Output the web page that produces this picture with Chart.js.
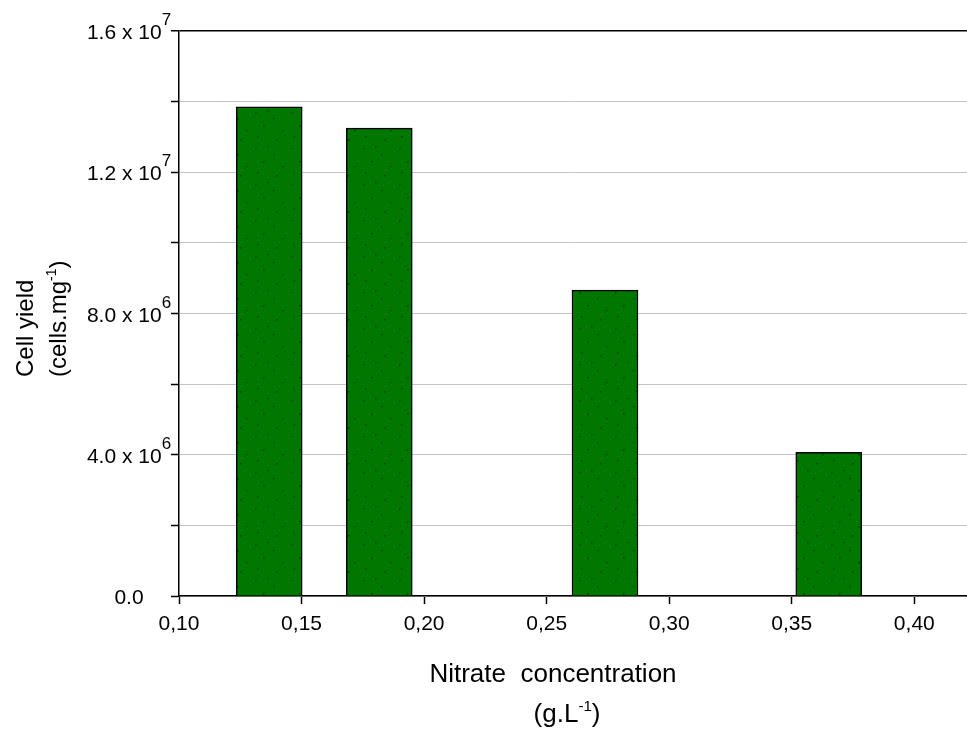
<!DOCTYPE html>
<html>
<head>
<meta charset="utf-8">
<script src="https://cdn.jsdelivr.net/npm/chart.js@4"></script>
<style>
  html, body { margin: 0; padding: 0; background: #fff; }
  #wrap { width: 967px; height: 731px; }
</style>
</head>
<body>
<div id="wrap"><canvas id="chart"></canvas></div>
<script>
// ---------- data ----------
const nitrate   = [0.1368, 0.1817, 0.2738, 0.3651];      // g.L-1 (bar centres)
const cellYield = [13.85e6, 13.25e6, 8.66e6, 4.07e6];    // cells.mg-1
const xTickValues  = [0.10, 0.15, 0.20, 0.25, 0.30, 0.35, 0.40];
const yLabelValues = [0, 4e6, 8e6, 1.2e7, 1.6e7];
const yLabelMain   = ['0.0', '4.0 x 10', '8.0 x 10', '1.2 x 10', '1.6 x 10'];
const yLabelExp    = ['', '6', '6', '7', '7'];

const FONT = '"Liberation Sans", Arial, sans-serif';

// dotted green fill like the original bars
function dotPattern() {
  const c = document.createElement('canvas');
  c.width = 36; c.height = 36;
  const g = c.getContext('2d');
  g.fillStyle = '#007800';
  g.fillRect(0, 0, 36, 36);
  g.fillStyle = '#003c00';
  [[3, 4], [21, 10], [11, 17], [30, 22], [5, 28], [24, 31], [15, 2]].forEach(([x, y]) => g.fillRect(x, y, 1.5, 1.5));
  return g.createPattern(c, 'repeat');
}

// ---------- labels with superscripts ----------
const labelsPlugin = {
  id: 'labels',
  afterDraw(chart) {
    const ctx = chart.ctx;
    const ys = chart.scales.y;
    ctx.save();
    ctx.fillStyle = '#000';
    ctx.textBaseline = 'alphabetic';
    ctx.textAlign = 'left';

    // y tick labels, centred at x = 129
    yLabelValues.forEach((v, i) => {
      const py = ys.getPixelForValue(v);
      ctx.font = '21px ' + FONT;
      const w1 = ctx.measureText(yLabelMain[i]).width;
      ctx.font = '17px ' + FONT;
      const w2 = yLabelExp[i] ? ctx.measureText(yLabelExp[i]).width : 0;
      const x0 = 129 - (w1 + w2) / 2;
      ctx.font = '21px ' + FONT;
      ctx.fillText(yLabelMain[i], x0, py + 8);
      if (yLabelExp[i]) {
        ctx.font = '17px ' + FONT;
        ctx.fillText(yLabelExp[i], x0 + w1, py - 6);
      }
    });

    // x title
    ctx.font = '26px ' + FONT;
    ctx.textAlign = 'center';
    ctx.fillText('Nitrate  concentration', 553, 682);
    ctx.textAlign = 'left';
    const a = '(g.L', b = '-1', c = ')';
    ctx.font = '26px ' + FONT;
    const wa = ctx.measureText(a).width, wc = ctx.measureText(c).width;
    ctx.font = '15px ' + FONT;
    const wb = ctx.measureText(b).width;
    let x = 567 - (wa + wb + wc) / 2;
    ctx.font = '26px ' + FONT;
    ctx.fillText(a, x, 722); x += wa;
    ctx.font = '15px ' + FONT;
    ctx.fillText(b, x, 711); x += wb;
    ctx.font = '26px ' + FONT;
    ctx.fillText(c, x, 722);

    // y title (rotated)
    ctx.save();
    ctx.translate(33, 377);
    ctx.rotate(-Math.PI / 2);
    ctx.font = '24px ' + FONT;
    ctx.fillText('Cell yield', 0, 0);
    ctx.restore();

    ctx.save();
    ctx.translate(66, 377);
    ctx.rotate(-Math.PI / 2);
    ctx.font = '24px ' + FONT;
    let t = 0;
    ctx.fillText('(cells.mg', t, 0); t += ctx.measureText('(cells.mg').width;
    ctx.font = '14px ' + FONT;
    ctx.fillText('-1', t, -10); t += ctx.measureText('-1').width;
    ctx.font = '24px ' + FONT;
    ctx.fillText(')', t, 0);
    ctx.restore();

    ctx.restore();
  }
};

new Chart(document.getElementById('chart'), {
  type: 'bar',
  data: {
    datasets: [{
      data: nitrate.map((n, i) => ({ x: n, y: cellYield[i] })),
      backgroundColor: dotPattern(),
      borderColor: '#000',
      borderWidth: 1.5,
      borderSkipped: 'start',
      barThickness: 66,
    }]
  },
  options: {
    responsive: true,
    maintainAspectRatio: false,
    animation: false,
    layout: { padding: { top: 31, left: 0, right: 0, bottom: 0 } },
    plugins: { legend: { display: false }, tooltip: { enabled: false } },
    scales: {
      x: {
        type: 'linear',
        offset: false,
        min: 0.1,
        max: 0.4215,
        afterFit: (s) => { s.height = 135; },
        afterBuildTicks: (s) => { s.ticks = xTickValues.map((v) => ({ value: v })); },
        ticks: {
          stepSize: 0.05,
          color: '#000',
          font: { family: FONT, size: 21 },
          padding: 8,
          maxRotation: 0,
          autoSkip: false,
          callback: (v) => v.toFixed(2).replace('.', ','),
        },
        grid: { offset: false, drawOnChartArea: false, tickLength: 8, tickColor: '#000', tickWidth: 1.5 },
        border: { color: '#000', width: 1.5 },
      },
      y: {
        min: 0,
        max: 1.6e7,
        afterFit: (s) => { s.width = 179; },
        ticks: { stepSize: 2e6, display: false },
        grid: {
          color: (c) => c.tick && c.tick.value === 1.6e7 ? '#000' : '#c4c4c4',
          lineWidth: (c) => c.tick && c.tick.value === 1.6e7 ? 1.5 : 1,
          tickLength: 8,
          tickColor: '#000',
          tickWidth: 1.5,
        },
        border: { color: '#000', width: 1.5 },
      }
    }
  },
  plugins: [labelsPlugin]
});
</script>
</body>
</html>
